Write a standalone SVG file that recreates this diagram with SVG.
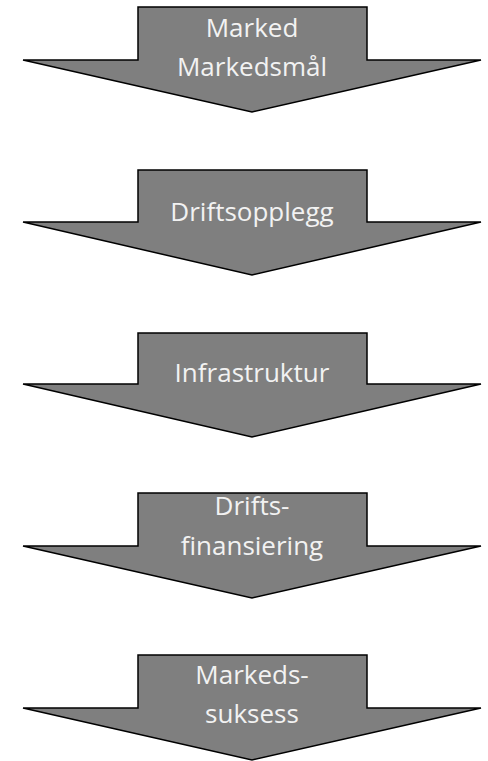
<svg xmlns="http://www.w3.org/2000/svg" width="488" height="761" viewBox="0 0 488 761">
<style>
.arrow{fill:#7f7f7f;stroke:#000;stroke-width:1.5;stroke-linejoin:miter}
.lbl{font-family:"Open Sans","Liberation Sans",sans-serif;font-size:26px;fill:#f2f2f2;text-anchor:middle}
</style>
<rect width="488" height="761" fill="#fff"/>
<g id="step1">
<polygon class="arrow" points="138,7 367,7 367,60 481,60 252,112 23,60 138,60"/>
<text class="lbl" x="252" y="37">Marked</text>
<text class="lbl" x="252" y="76">Markedsmål</text>
</g>
<g id="step2">
<polygon class="arrow" points="138,170 367,170 367,222 481,222 252,275 23,222 138,222"/>
<text class="lbl" x="252" y="221">Driftsopplegg</text>
</g>
<g id="step3">
<polygon class="arrow" points="138,333 367,333 367,384 481,384 252,437 23,384 138,384"/>
<text class="lbl" x="252" y="382">Infrastruktur</text>
</g>
<g id="step4">
<polygon class="arrow" points="138,493 367,493 367,546 481,546 252,598 23,546 138,546"/>
<text class="lbl" x="252" y="515">Drifts-</text>
<text class="lbl" x="252" y="555">finansiering</text>
</g>
<g id="step5">
<polygon class="arrow" points="138,655 367,655 367,708 481,708 252,760 23,708 138,708"/>
<text class="lbl" x="252" y="684">Markeds-</text>
<text class="lbl" x="252" y="723">suksess</text>
</g>
<g id="connectors"></g>
</svg>
